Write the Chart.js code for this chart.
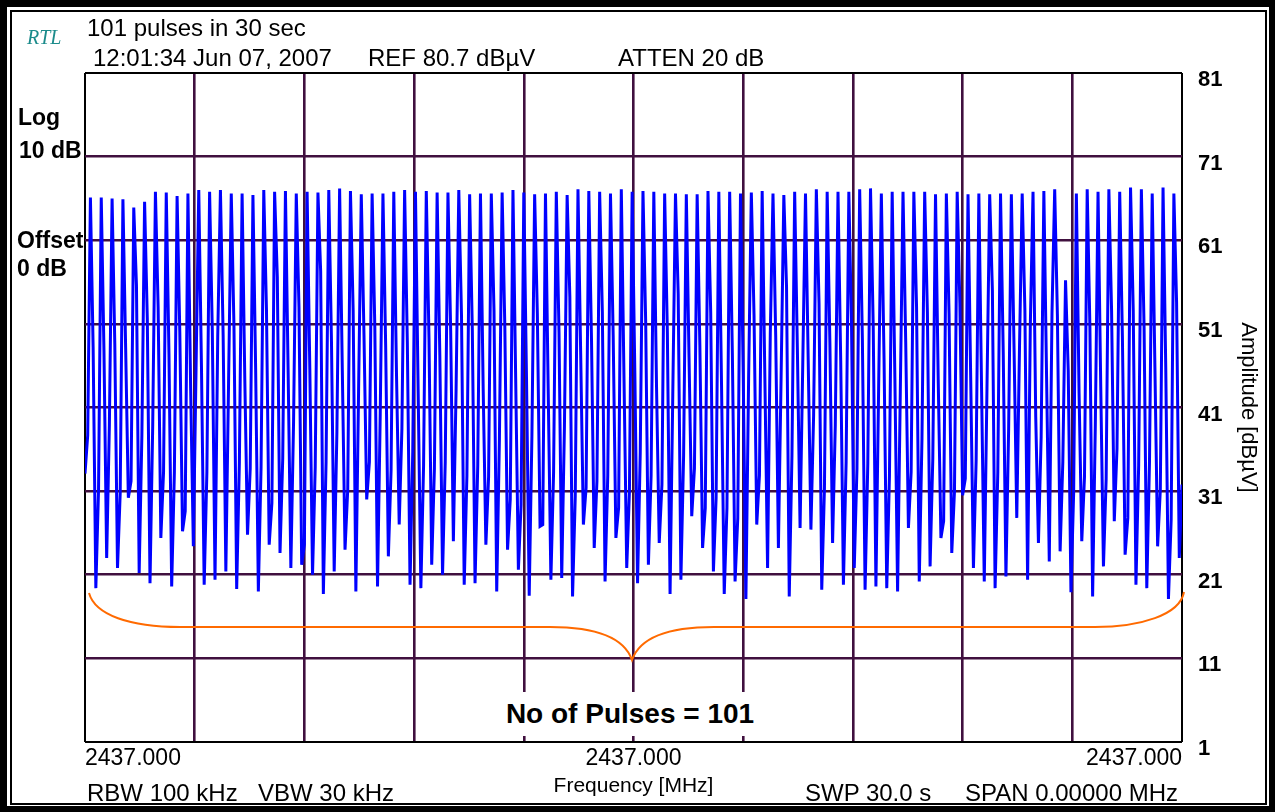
<!DOCTYPE html>
<html>
<head>
<meta charset="utf-8">
<script src="https://cdn.jsdelivr.net/npm/chart.js@4.4.1/dist/chart.umd.min.js"></script>
<style>
  html, body { margin: 0; padding: 0; }
  body { width: 1275px; height: 812px; background: #000; position: relative; overflow: hidden;
         font-family: "Liberation Sans", Arial, sans-serif; color: #000; }
  #panel { position: absolute; left: 7px; top: 7px; right: 6px; bottom: 6px; background: #fff; }
  #frame { position: absolute; left: 10px; top: 10px; right: 8px; bottom: 7px; border: 2px solid #000;
           box-sizing: border-box; z-index: 4; pointer-events: none; }
  #chart { position: absolute; left: 0; top: 0; z-index: 1; }
  #brace { position: absolute; left: 0; top: 0; z-index: 2; pointer-events: none; }
  .t { position: absolute; line-height: 1; white-space: pre; z-index: 3; }
  .hdr { font-size: 24px; }
  .side { font-size: 23px; font-weight: bold; }
  .ftr { font-size: 24px; }
  #rtl { font-family: "Liberation Serif", "Times New Roman", serif; font-style: italic; font-size: 20px; color: #1b8b8b; }
  #pulses { left: 480px; top: 692px; width: 300px; height: 44px; line-height: 44px; text-align: center;
            background: #fff; font-size: 28px; font-weight: bold; }
</style>
</head>
<body>
<div id="panel"></div>
<canvas id="chart" width="1275" height="812"></canvas>
<svg id="brace" width="1275" height="812">
  <path d="M 89 593 C 95 615, 130 627, 180 627 L 550 627 C 600 627, 625 640, 632 660 C 639 640, 664 627, 714 627 L 1095 627 C 1140 627, 1180 615, 1184 592"
        fill="none" stroke="#ff6a00" stroke-width="2"/>
</svg>
<div id="frame"></div>

<div class="t" id="rtl" style="left:27px; top:27px;">RTL</div>
<div class="t hdr" style="left:87px; top:16px;">101 pulses in 30 sec</div>
<div class="t hdr" style="left:93px; top:46px;">12:01:34 Jun 07, 2007</div>
<div class="t hdr" style="left:368px; top:46px;">REF 80.7 dBµV</div>
<div class="t hdr" style="left:618px; top:46px;">ATTEN 20 dB</div>

<div class="t side" style="left:18px; top:106px;">Log</div>
<div class="t side" style="left:19px; top:139px;">10 dB</div>
<div class="t side" style="left:17px; top:229px;">Offset</div>
<div class="t side" style="left:17px; top:257px;">0 dB</div>

<div class="t ftr" style="left:87px; top:781px;">RBW 100 kHz</div>
<div class="t ftr" style="left:258px; top:781px;">VBW 30 kHz</div>
<div class="t ftr" style="left:805px; top:781px;">SWP 30.0 s</div>
<div class="t ftr" style="right:97px; top:781px;">SPAN 0.00000 MHz</div>

<div class="t" id="pulses">No of Pulses = 101</div>

<script>
// amplitude readings (dBµV), one value per pulse, left to right
// level just before each pulse rises
const pulseRise = [
  37.7, 31.2, 38.9, 30.8, 32.2, 37.7, 38.9, 33.3, 33.3, 28.6, 45.6, 33.3, 49.4, 43.9, 34.5, 33.7, 33.9, 29.6, 34.9, 39.3,
  24.6, 33.9, 34.5, 38.1, 31.2, 42.9, 34.5, 40.3, 33.5, 38.5, 35.7, 34.1, 33.7, 34.5, 43.1, 32.9, 34.1, 32.7, 37.3, 30.0, 29.4,
  37.7, 27.0, 33.3, 38.7, 30.4, 31.4, 32.2, 32.9, 29.0, 31.0, 35.7, 32.9, 31.8, 42.5, 35.3, 33.7, 29.0, 30.2, 29.0, 27.8,
  44.5, 32.9, 49.8, 44.8, 35.3, 46.4, 40.1, 31.4, 38.9, 34.5, 33.7, 34.3, 43.3, 32.9, 42.9, 33.3, 37.3, 34.9, 27.4, 31.0,
  32.5, 34.7, 43.3, 33.3, 38.5, 48.0, 50.8, 37.5, 52.2, 34.5, 30.8, 32.7, 38.9, 32.5, 36.1, 27.8, 34.1, 34.5, 31.2, 27.6
];
// pulse tops
const pulsePeak = [
  66.1, 66.1, 66.0, 65.9, 64.9, 65.6, 66.8, 66.7, 66.3, 66.6, 67.0, 66.8, 67.0, 66.6, 66.6, 66.4, 67.0, 66.8, 66.9, 66.6,
  66.8, 66.7, 67.0, 67.2, 66.9, 66.5, 66.6, 66.6, 66.8, 67.0, 66.8, 66.9, 66.7, 66.7, 67.0, 66.5, 66.6, 66.6, 66.7, 67.0, 66.7,
  66.5, 66.6, 66.8, 66.4, 67.1, 66.9, 66.8, 66.6, 67.1, 66.8, 66.9, 66.8, 66.6, 66.6, 66.5, 66.5, 66.9, 66.8, 66.8, 66.6,
  66.7, 66.9, 66.6, 66.4, 66.8, 66.6, 67.1, 66.8, 66.8, 66.8, 67.1, 67.2, 66.6, 66.8, 66.8, 66.8, 66.8, 66.5, 66.6, 66.8,
  66.5, 66.6, 66.5, 66.6, 66.5, 66.6, 66.8, 66.9, 67.1, 56.2, 66.6, 67.1, 66.8, 67.1, 66.8, 67.3, 67.1, 66.6, 67.3, 66.6
];
// step on the falling edge
const pulseShoulder = [
  48.2, 47.8, 48.6, 48.2, 55.6, 51.6, 53.0, 47.4, 50.0, 43.3, 45.8, 50.2, 49.6, 50.6, 44.3, 45.6, 52.6, 56.6, 45.2, 53.0,
  45.6, 57.3, 48.8, 45.4, 52.6, 49.6, 50.6, 48.4, 45.0, 48.8, 42.9, 49.2, 47.2, 50.2, 52.0, 50.2, 43.3, 52.6, 50.6, 44.5, 44.5,
  52.2, 43.3, 50.0, 54.2, 47.4, 49.0, 52.4, 49.6, 44.3, 45.0, 51.2, 43.5, 50.0, 54.6, 47.0, 48.4, 52.4, 43.7, 47.4, 45.2,
  52.0, 44.5, 49.6, 55.4, 48.0, 46.6, 53.4, 48.8, 46.6, 50.6, 49.2, 50.8, 46.8, 44.5, 48.8, 53.0, 52.4, 44.3, 52.2, 53.4,
  44.3, 43.3, 55.0, 47.6, 48.0, 52.6, 39.9, 44.7, 52.0, 45.4, 42.7, 50.6, 43.5, 52.6, 49.4, 52.6, 50.6, 45.8, 45.8, 53.6
];
// bottom after each pulse
const pulseLow = [
  19.4, 23.0, 21.8, 30.2, 21.2, 20.0, 25.4, 19.6, 26.2, 24.4, 19.8, 20.4, 21.4, 19.3, 25.8, 19.0, 24.6, 23.6, 21.8, 22.2,
  21.0, 18.7, 21.4, 24.0, 19.0, 30.0, 19.6, 23.2, 27.0, 19.8, 19.4, 22.2, 21.0, 25.0, 19.8, 20.0, 24.6, 19.0, 24.0, 21.6, 18.5,
  26.8, 20.4, 20.6, 18.4, 27.0, 24.2, 20.2, 25.4, 21.8, 20.0, 22.2, 24.8, 18.7, 20.4, 28.0, 24.2, 21.4, 18.7, 20.2, 18.1,
  27.0, 21.8, 24.2, 18.4, 26.6, 26.4, 19.2, 24.8, 19.8, 21.8, 19.2, 19.6, 19.4, 19.0, 26.6, 20.2, 22.0, 25.4, 23.6, 30.5,
  21.8, 20.2, 19.4, 20.8, 27.8, 20.4, 24.8, 22.6, 23.8, 18.9, 25.0, 18.4, 22.0, 27.4, 23.4, 19.8, 19.4, 24.4, 18.1, 23.0
];
const traceStart = 33.1;
const traceEnd = 31.8;

const yTicks = [1, 11, 21, 31, 41, 51, 61, 71, 81];
const freqLabel = "2437.000";

// sweep points in order
const trace = [traceStart];
for (let i = 0; i < pulsePeak.length; i++) {
  trace.push(pulseRise[i], pulsePeak[i], pulseShoulder[i], pulseLow[i]);
}
trace.push(traceEnd);
const points = trace.map((v, i) => ({ x: i, y: v }));
const lastX = trace.length - 1;

const gridColor = "#40103f";
const font = "'Liberation Sans', Arial, sans-serif";

function isEdge(c, a, b) {
  return c.tick && (c.tick.value === a || c.tick.value === b);
}

new Chart(document.getElementById("chart"), {
  type: "line",
  data: {
    datasets: [{
      data: points,
      borderColor: "#0000ff",
      borderWidth: 3,
      pointRadius: 0,
      tension: 0,
      fill: false
    }]
  },
  options: {
    responsive: false,
    animation: false,
    layout: { padding: { left: 85, top: 73, right: 0, bottom: 0 } },
    plugins: { legend: { display: false }, tooltip: { enabled: false } },
    scales: {
      x: {
        type: "linear",
        min: 0,
        max: lastX,
        z: 1,
        afterFit: s => { s.height = 70; },
        border: { display: false },
        grid: {
          drawTicks: false,
          lineWidth: c => isEdge(c, 0, lastX) ? 2 : 2.6,
          color: c => isEdge(c, 0, lastX) ? "#000" : gridColor
        },
        ticks: {
          stepSize: lastX / 10,
          autoSkip: false,
          maxRotation: 0,
          align: "inner",
          padding: 3,
          color: "#000",
          font: { family: font, size: 23 },
          callback: v => (v === 0 || v === lastX / 2 || v === lastX) ? freqLabel : ""
        },
        title: {
          display: true,
          text: "Frequency [MHz]",
          color: "#000",
          font: { family: font, size: 21 },
          padding: { top: 0, bottom: 13 }
        }
      },
      y: {
        position: "right",
        min: yTicks[0],
        max: yTicks[yTicks.length - 1],
        z: 1,
        afterFit: s => { s.width = 93; },
        afterBuildTicks: s => { s.ticks = yTicks.map(v => ({ value: v })); },
        border: { display: false },
        grid: {
          drawTicks: false,
          lineWidth: c => isEdge(c, 1, 81) ? 2 : 2.6,
          color: c => isEdge(c, 1, 81) ? "#000" : gridColor
        },
        ticks: {
          padding: 16,
          labelOffset: 7,
          color: "#000",
          font: { family: font, size: 22, weight: "bold" }
        },
        title: {
          display: true,
          text: "Amplitude [dBµV]",
          color: "#000",
          font: { family: font, size: 22 },
          padding: { top: 14, bottom: 0 }
        }
      }
    }
  }
});
</script>
</body>
</html>
